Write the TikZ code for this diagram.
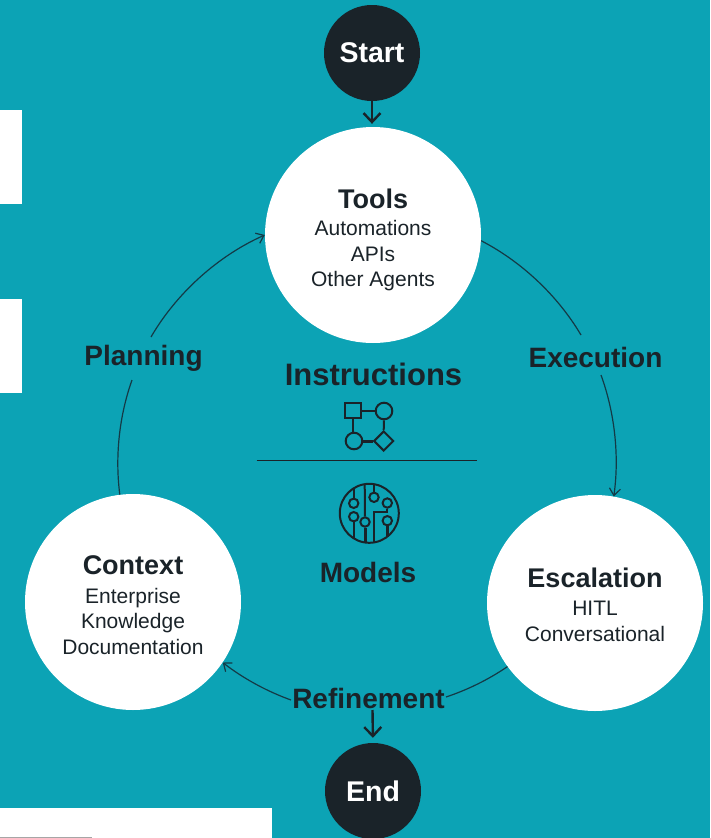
\documentclass[tikz,border=0pt]{standalone}
\usepackage{fontspec}
\setmainfont{Liberation Sans}
\usetikzlibrary{arrows.meta,shapes.geometric}
\definecolor{bgteal}{HTML}{0CA3B5}
\definecolor{inkdark}{HTML}{1A2329}
\definecolor{ringline}{HTML}{143A46}
\newcommand{\fs}[1]{\fontsize{#1}{#1}\selectfont}
\tikzset{
  bigcircle/.style={circle,fill=white,draw=none,minimum size=216pt,inner sep=0pt,align=center,text=inkdark,font=\fs{21},execute at begin node={\setlength{\baselineskip}{25.5pt}}},
  termnode/.style={circle,fill=inkdark,draw=none,minimum size=96pt,inner sep=0pt,text=white,font=\fs{28.5}\bfseries},
  phase/.style={inner sep=0pt,text=inkdark,font=\fs{28}\bfseries},
  ringarrow/.style={draw=ringline,line width=1.2pt,-{Straight Barb[length=7pt,width=11pt]},looseness=0.85},
  ringplain/.style={draw=ringline,line width=1.2pt,looseness=0.85},
  flowarrow/.style={draw=inkdark,line width=2.4pt,-{Straight Barb[length=9pt,width=17pt,line width=2.4pt]}},
  panel/.style={fill=white,draw=none},
  iconline/.style={draw=inkdark,line width=2pt},
  iconshape/.style={draw=inkdark,line width=2pt,inner sep=0pt,fill=none},
}
\begin{document}
\begin{tikzpicture}[x=1pt,y=-1pt]
\useasboundingbox (0,0) rectangle (710,838);
\fill[bgteal] (0,0) rectangle (710,838);
\fill[panel] (0,110) rectangle (22,204);
\fill[panel] (0,299) rectangle (22,393);
\fill[panel] (0,808) rectangle (272,838);
\draw[gray!70,line width=1pt] (0,837.5) -- (92,837.5);

\node[termnode] (start) at (372,53) {\raisebox{-1pt}{Start}};
\node[termnode] (end) at (373,791) {End};
\node[bigcircle] (tools) at (373,235) {\mbox{}\\[3.5pt]\fs{27}\bfseries Tools\\[2pt]Automations\\APIs\\Other Agents};
\node[bigcircle] (context) at (133,602) {\mbox{}\\[-0.5pt]\fs{27}\bfseries Context\\[3pt]Enterprise\\Knowledge\\Documentation};
\node[bigcircle] (escalation) at (595,603) {\mbox{}\\[-2.5pt]\fs{27}\bfseries Escalation\\[3pt]HITL\\Conversational};

\node[phase] (execution) at (595.5,357) {Execution};
\node[phase] (refinement) at (368.5,698) {Refinement};
\node[phase] (planning) at (143.5,358) {Planning};
\node[phase,font=\fs{31}\bfseries] (instructions) at (373.5,374) {Instructions};
\node[phase] (models) at (368,572) {Models};

% ring
\draw[ringplain] (tools.-3) to[bend left=16] ([shift={(-14.5,-22)}]execution.center);
\draw[ringarrow] ([shift={(5.5,18)}]execution.center) to[bend left=14] (escalation.80);
\draw[ringplain] (escalation.216.3) to[bend left=8] ([shift={(77.5,-1)}]refinement.center);
\draw[ringarrow] ([shift={(-77.5,2)}]refinement.center) to[bend left=9] (context.-34.4);
\draw[ringplain] (context.97) to[bend left=13.5] ([shift={(-11.5,22)}]planning.center);
\draw[ringarrow] ([shift={(7.5,-21)}]planning.center) to[bend left=18] (tools.180);

% flow
\draw[flowarrow,shorten >=3pt] (start.south) -- (start.south |- tools.north);
\draw[flowarrow,shorten >=5pt] ([shift={(4,12)}]refinement.center) -- (end.north);

% divider
\coordinate (divl) at (256.7,460.7);
\coordinate (divr) at (476.7,460.7);
\draw[draw=inkdark,line width=1.2pt] (divl) -- (divr);

% instructions icon
\node[iconshape,rectangle,minimum size=15.4pt] (isq) at (353,410.4) {};
\node[iconshape,circle,minimum size=16.6pt] (icr) at (384,411) {};
\node[iconshape,circle,minimum size=16.6pt] (icl) at (354,441) {};
\node[iconshape,diamond,minimum size=20pt] (idm) at (383.7,441) {};
\draw[iconline] (isq.east |- icr) -- (icr.west);
\draw[iconline] (icl.north -| isq) -- (isq.south);
\draw[iconline] (icr.south) -- (idm.north);
\draw[iconline,line width=3pt] (icl.east) -- (idm.west);

% models icon
\node[iconshape,circle,minimum size=59pt] (mring) at (369.3,513.3) {};
\node[iconshape,circle,minimum size=9.4pt] (ma) at (353.7,503.3) {};
\node[iconshape,circle,minimum size=9.4pt] (mb) at (353.7,516.7) {};
\node[iconshape,circle,minimum size=9.4pt] (mc) at (374,497.3) {};
\node[iconshape,circle,minimum size=9.4pt] (md) at (387.3,503) {};
\node[iconshape,circle,minimum size=9.4pt] (me) at (365,522) {};
\node[iconshape,circle,minimum size=9.4pt] (mf) at (387.3,520.7) {};
\coordinate (t1) at (353.7,488.5);
\coordinate (b1) at (353.7,538.5);
\coordinate (t2) at (364.7,484.3);
\coordinate (b2) at (365,542.4);
\coordinate (t3) at (374,484.5);
\coordinate (b3) at (374,542);
\coordinate (b4) at (387.3,537);
\coordinate (k1) at (387.3,511.7);
\coordinate (k2) at (374,511.7);
\draw[iconline] (t1) -- (ma.north);
\draw[iconline] (mb.south) -- (b1);
\draw[iconline] (t2) -- (me.north);
\draw[iconline,line width=3pt] (me.south) -- (b2);
\draw[iconline] (t3) -- (mc.north);
\draw[iconline] (md.south) -- (k1) -- (k2) -- (b3);
\draw[iconline,line width=3pt] (mf.south) -- (b4);
\end{tikzpicture}
\end{document}
